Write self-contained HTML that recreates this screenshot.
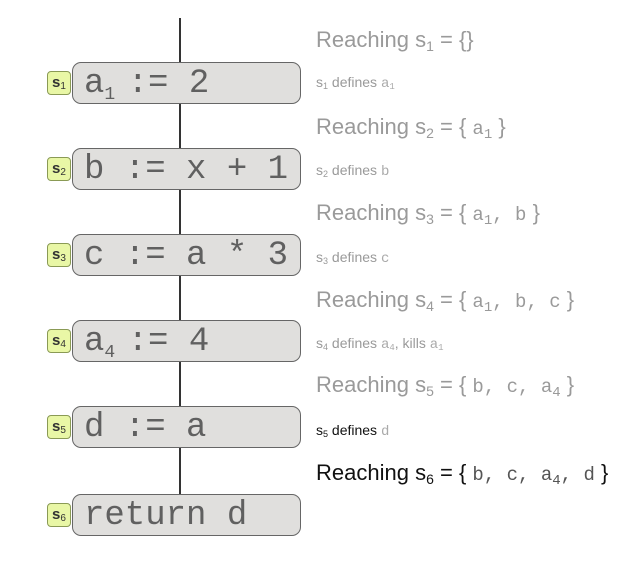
<!DOCTYPE html>
<html><head><style>
body{margin:0;width:643px;height:562px;background:#fff;position:relative;overflow:hidden;font-family:"Liberation Sans",sans-serif}
.line{position:absolute;left:179px;top:18px;width:2px;height:480px;background:#333}
.box{position:absolute;left:72px;width:216px;height:40px;background:#e0dfdd;border:1.5px solid #666;border-radius:9px;font-family:"Liberation Mono",monospace;font-size:34px;color:#606060;line-height:42px;padding-left:11px;box-sizing:content-box;white-space:pre}
.box sub{font-size:18px;vertical-align:-7px;margin-right:-8px}
.b{position:absolute;left:47px;width:22px;height:22px;background:#e9f7a6;border:1.5px solid #8a9a55;border-radius:4px;font-size:15px;font-weight:bold;color:#333;line-height:21px;text-align:center;z-index:2}
.b sub{font-size:10px;font-weight:normal;vertical-align:-2px}
.r{position:absolute;left:316px;font-size:22px;color:#9a9a9a;white-space:nowrap;line-height:26px}
.r sub{font-size:14px;vertical-align:-4px}
.m{font-family:"Liberation Mono",monospace;font-size:19px}
.s{position:absolute;left:316px;font-size:14px;color:#9a9a9a;white-space:nowrap;line-height:18px}
.s sub{font-size:9px;vertical-align:-2px}
.sm{font-family:"Liberation Mono",monospace;font-size:14px;color:#aaa}
.k{color:#111}
</style></head><body>
<div class="line"></div>
<div class="box" style="top:62px">a<sub>1</sub> := 2</div><div class="b" style="top:71px">s<sub>1</sub></div>
<div class="box" style="top:148px">b := x + 1</div><div class="b" style="top:157px">s<sub>2</sub></div>
<div class="box" style="top:234px">c := a * 3</div><div class="b" style="top:243px">s<sub>3</sub></div>
<div class="box" style="top:320px">a<sub>4</sub> := 4</div><div class="b" style="top:329px">s<sub>4</sub></div>
<div class="box" style="top:406px">d := a</div><div class="b" style="top:415px">s<sub>5</sub></div>
<div class="box" style="top:494px">return d</div><div class="b" style="top:503px">s<sub>6</sub></div>

<div class="r" style="top:27px">Reaching s<sub>1</sub> = {}</div>
<div class="s" style="top:73px">s<sub>1</sub> defines <span class="sm">a<sub>1</sub></span></div>
<div class="r" style="top:114px">Reaching s<sub>2</sub> = { <span class="m">a<sub>1</sub></span> }</div>
<div class="s" style="top:161px">s<sub>2</sub> defines <span class="sm">b</span></div>
<div class="r" style="top:200px">Reaching s<sub>3</sub> = { <span class="m">a<sub>1</sub>, b</span> }</div>
<div class="s" style="top:248px">s<sub>3</sub> defines <span class="sm">c</span></div>
<div class="r" style="top:287px">Reaching s<sub>4</sub> = { <span class="m">a<sub>1</sub>, b, c</span> }</div>
<div class="s" style="top:334px">s<sub>4</sub> defines <span class="sm">a<sub>4</sub></span>, kills <span class="sm">a<sub>1</sub></span></div>
<div class="r" style="top:372px">Reaching s<sub>5</sub> = { <span class="m">b, c, a<sub>4</sub></span> }</div>
<div class="s k" style="top:421px">s<sub>5</sub> defines <span class="sm">d</span></div>
<div class="r k" style="top:460px">Reaching s<sub>6</sub> = { <span class="m" style="color:#555">b, c, a<sub>4</sub>, d</span> }</div>
</body></html>
